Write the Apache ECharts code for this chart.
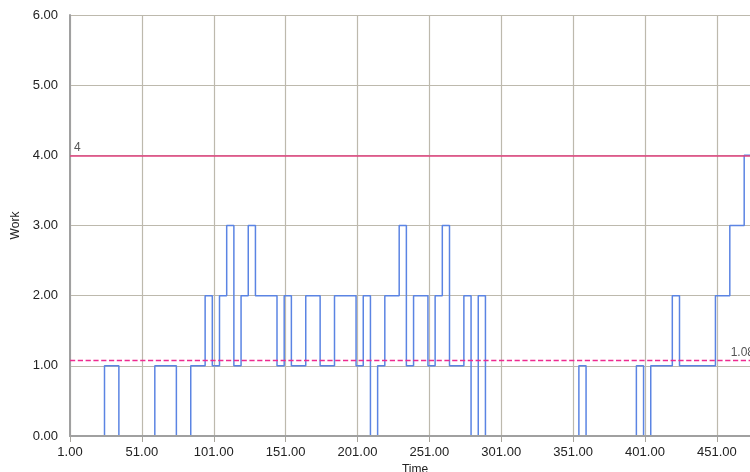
<!DOCTYPE html>
<html>
<head>
<meta charset="utf-8">
<script src="https://cdn.jsdelivr.net/npm/echarts@6/dist/echarts.min.js"></script>
<style>
html,body{margin:0;padding:0;background:#fff;}
#chart{width:750px;height:472px;}
</style>
</head>
<body>
<div id="chart"></div>
<script>
// change times (Time) and the Work value that holds from each time onward
var times  = [1, 25, 35, 60, 75, 85, 95, 100, 105, 110, 115, 120, 125, 130, 145, 150, 155, 165, 175, 185, 200, 205, 210, 215, 220, 230, 235, 240, 250, 255, 260, 265, 275, 280, 285, 290, 355, 360, 395, 400, 405, 420, 425, 450, 460, 470, 481];
var work   = [0, 1, 0, 1, 0, 1, 2, 1, 2, 3, 1, 2, 3, 2, 1, 2, 1, 2, 1, 2, 1, 2, 0, 1, 2, 3, 1, 2, 1, 2, 3, 1, 2, 0, 2, 0, 1, 0, 1, 0, 1, 2, 1, 2, 3, 4, 4];
var upperLimit = 4;
var meanLevel = 1.08;
var xMin = 1, xMax = 481, xStep = 50;
var yMin = 0, yMax = 6, yStep = 1;

var pts = times.map(function (t, i) { return [t, work[i]]; });
var font = 'Liberation Sans, Arial, sans-serif';

var chart = echarts.init(document.getElementById('chart'), null, {renderer: 'canvas'});
chart.setOption({
  animation: false,
  backgroundColor: '#ffffff',
  grid: {left: 70, top: 15, width: 690, height: 421, containLabel: false, outerBoundsMode: 'none'},
  xAxis: [{
    type: 'value', min: xMin, max: xMax, interval: xStep,
    name: 'Time', nameLocation: 'middle', nameGap: 24,
    nameTextStyle: {color: '#222', fontSize: 12, fontFamily: font},
    axisLine: {show: true, lineStyle: {color: '#a0a0a0', width: 2}},
    axisTick: {show: true, length: 6, lineStyle: {color: '#a8a59c'}},
    axisLabel: {color: '#222', fontSize: 13, fontFamily: font, margin: 10,
      formatter: function (v) { return v.toFixed(2); }, showMaxLabel: false},
    splitLine: {show: true, lineStyle: {color: '#bdb9ad', width: 1.2}}
  }, {
    type: 'value', min: xMin, max: xMax, position: 'bottom', z: 10,
    axisLine: {show: true, lineStyle: {color: '#a0a0a0', width: 2}},
    axisTick: {show: false}, axisLabel: {show: false}, splitLine: {show: false}
  }],
  yAxis: {
    type: 'value', min: yMin, max: yMax, interval: yStep,
    name: 'Work', nameLocation: 'middle', nameGap: 44, nameRotate: 90,
    nameTextStyle: {color: '#222', fontSize: 12, fontFamily: font},
    axisLine: {show: true, lineStyle: {color: '#a0a0a0', width: 2}},
    axisTick: {show: false},
    axisLabel: {color: '#222', fontSize: 13, fontFamily: font, margin: 12,
      formatter: function (v) { return v.toFixed(2); }},
    splitLine: {show: true, lineStyle: {color: '#bdb9ad', width: 1.2}}
  },
  series: [{
    type: 'line', step: 'end', data: pts, xAxisIndex: 0,
    symbol: 'none',
    lineStyle: {color: '#5b84e3', width: 1.5},
    markLine: {
      silent: true, symbol: 'none',
      data: [
        {yAxis: upperLimit,
          lineStyle: {color: '#e0407e', width: 1.5, type: 'solid'},
          label: {show: true, position: 'insideStartTop', distance: [4, 2],
            formatter: String(upperLimit), color: '#555', fontSize: 12, fontFamily: font}},
        {yAxis: meanLevel,
          lineStyle: {color: '#ee2a90', width: 1.3, type: 'dashed', opacity: 1},
          label: {show: true, position: 'insideEndTop', distance: [6, 2],
            formatter: meanLevel.toFixed(2), color: '#555', fontSize: 12, fontFamily: font}}
      ]
    }
  }]
});
</script>
</body>
</html>
